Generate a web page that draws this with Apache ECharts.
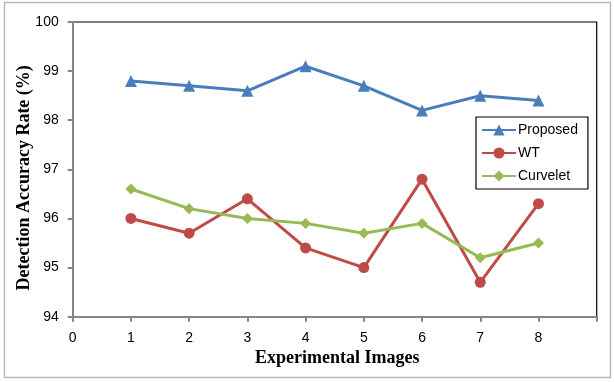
<!DOCTYPE html>
<html><head><meta charset="utf-8">
<script src="https://cdn.jsdelivr.net/npm/echarts@6/dist/echarts.min.js"></script>
<style>html,body{margin:0;padding:0;background:#fff}#c{width:614px;height:382px}</style>
</head><body><div id="c"></div>
<script>
const xValues = [1, 2, 3, 4, 5, 6, 7, 8];
const proposed = [98.8, 98.7, 98.6, 99.1, 98.7, 98.2, 98.5, 98.4];
const wt = [96.0, 95.7, 96.4, 95.4, 95.0, 96.8, 94.7, 96.3];
const curvelet = [96.6, 96.2, 96.0, 95.9, 95.7, 95.9, 95.2, 95.5];
const seriesNames = ['Proposed', 'WT', 'Curvelet'];

const pairs = arr => xValues.map((x, i) => [x, arr[i]]);
const chart = echarts.init(document.getElementById('c'), null, {renderer: 'canvas'});
const tickFont = {fontFamily: 'Liberation Sans', fontSize: 14, color: '#000'};
const titleFont = {fontFamily: 'Liberation Serif', fontSize: 18, fontWeight: 'bold', color: '#000'};
function mk(name, data, color, symbol, size) {
  return {name, type: 'line', data: pairs(data), symbol, symbolSize: size,
    lineStyle: {color, width: 3}, itemStyle: {color}, z: 3};
}
chart.setOption({
  animation: false,
  graphic: [{type: 'rect', shape: {x: 4.5, y: 2.5, width: 606, height: 375},
    style: {fill: 'none', stroke: '#b8b8b8', lineWidth: 1.5}, silent: true}],
  grid: {left: 72.7, top: 22, right: 17.3, bottom: 65.3, show: true, borderColor: '#000', borderWidth: 1.2},
  xAxis: {type: 'value', min: 0, max: 9, interval: 1,
    name: 'Experimental Images', nameLocation: 'middle', nameGap: 33, nameMoveOverlap: false,
    nameTextStyle: {...titleFont, padding: [0, 0, 0, 5]},
    axisLine: {lineStyle: {color: '#868686', width: 2}},
    axisTick: {show: true, length: 5, lineStyle: {color: '#868686', width: 2}},
    axisLabel: {...tickFont, margin: 14, formatter: v => v === 9 ? '' : String(v)},
    splitLine: {show: false}},
  yAxis: {type: 'value', min: 94, max: 100, interval: 1,
    name: 'Detection Accuracy Rate (%)', nameLocation: 'middle', nameGap: 39, nameMoveOverlap: false,
    nameTextStyle: {...titleFont, padding: [0, 17, 0, 0]},
    axisLine: {show: true, lineStyle: {color: '#868686', width: 2}},
    axisTick: {show: true, length: 5, lineStyle: {color: '#868686', width: 2}},
    axisLabel: {...tickFont, margin: 14},
    splitLine: {show: false}},
  legend: {orient: 'vertical', left: 476, top: 117, data: seriesNames,
    itemWidth: 34, itemHeight: 14, itemGap: 9, padding: [6, 10, 6, 5],
    borderColor: '#000', borderWidth: 1.2, backgroundColor: '#fff',
    textStyle: {fontFamily: 'Liberation Sans', fontSize: 14, color: '#000', padding: [0, 0, 0, -3]}},
  series: [
    mk(seriesNames[0], proposed, '#4A7EBB', 'triangle', 12),
    mk(seriesNames[1], wt, '#BE4B48', 'circle', 11),
    mk(seriesNames[2], curvelet, '#98B954', 'diamond', 11)
  ]
});
</script></body></html>
